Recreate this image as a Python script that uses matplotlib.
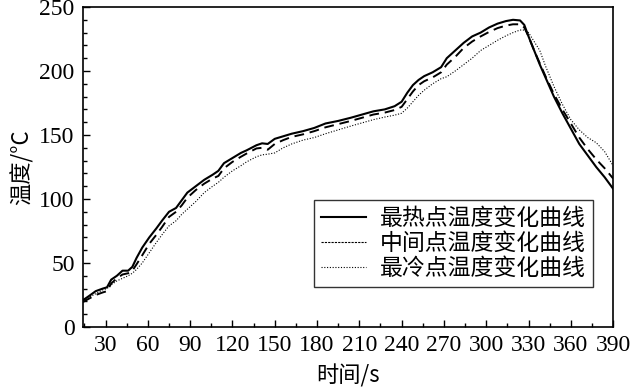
import matplotlib
matplotlib.use("Agg")
import matplotlib.pyplot as plt
from matplotlib.ticker import MultipleLocator

# ---- data ----
t = [14, 18, 23, 28, 31, 34, 38, 42, 46, 49, 52, 56, 61, 66, 70, 75, 80, 84, 88, 94,
     100, 106, 110, 114, 120, 126, 130, 137, 141, 145, 150, 156, 162, 170, 178, 186,
     195, 204, 212, 220, 228, 235, 240, 244, 248, 252, 256, 262, 268, 272, 278, 284,
     290, 296, 302, 308, 314, 319, 324, 327, 330, 334, 338, 342, 348, 354, 360, 366,
     372, 378, 384, 390]
hot = [21, 24, 28, 30, 31, 37, 40, 44, 44, 47, 54, 62, 70, 77, 83, 90, 93, 99, 105, 110,
       115, 119, 122, 128, 132, 136, 138, 142, 143.5, 143, 147, 149, 151, 153, 155.5, 159,
       161, 163.5, 166, 168.5, 170, 172.5, 176, 183, 189, 193, 196, 199, 203, 210, 216, 222,
       227, 230, 234, 237, 239, 240, 239.5, 236, 227, 216, 205, 195, 180, 167, 155, 143,
       134, 125, 117, 108]
mid = [19.5, 22, 25, 27, 28, 34, 38, 41, 42, 44, 49, 56, 65, 72, 78, 86, 90, 95, 101, 107,
       112, 116, 118, 124, 129, 133, 135.5, 139.5, 140, 138.5, 143, 146, 148.5, 150.5, 153, 156,
       158.5, 161, 163.5, 166, 167.5, 169.5, 172, 178, 184, 189, 192, 195, 199, 205, 211, 218,
       223, 227, 230.5, 233.5, 235.5, 236.5, 236.5, 234, 227, 216, 206, 196, 182, 170, 159, 148,
       139, 131, 124, 116]
cold = [20, 23, 26, 29, 30, 33, 36, 38, 40, 42, 45, 50, 58, 66, 72, 79, 83, 88, 92, 98,
        105, 110, 113, 117, 122, 126, 129, 133, 134.5, 135, 136, 140, 143, 146, 148, 151,
        154, 157, 159.5, 162, 164, 165.5, 167, 171, 176, 181, 185, 190, 194, 195.5, 200, 205,
        210, 216, 220, 224, 227.5, 230, 232, 232, 230, 223, 216, 204, 188, 174, 162, 154,
        148, 144, 137, 126]
labels = ["最热点温度变化曲线", "中间点温度变化曲线", "最冷点温度变化曲线"]
xticks = [30, 60, 90, 120, 150, 180, 210, 240, 270, 300, 330, 360, 390]
yticks = [0, 50, 100, 150, 200, 250]

cjk = ["Noto Sans CJK SC", "DejaVu Sans"]
serif = ["Liberation Serif", "DejaVu Serif"]

fig = plt.figure(figsize=(6.4, 3.89), dpi=100)
ax = fig.add_axes([0.1297, 0.1594, 0.958 - 0.1297, 0.982 - 0.1594])

ax.plot(t, hot, color="black", lw=1.5, ls="-", label=labels[0])
ax.plot(t, mid, color="black", lw=1.4, ls=(0, (5, 3)), label=labels[1])
ax.plot(t, cold, color="black", lw=0.8, ls=(0, (1, 1.5)), label=labels[2])

ax.set_xlim(14, 390)
ax.set_ylim(0, 250)
ax.set_xticks(xticks)
ax.set_yticks(yticks)
ax.xaxis.set_minor_locator(MultipleLocator(15))
ax.yaxis.set_minor_locator(MultipleLocator(10))
ax.tick_params(which="both", direction="in", top=False, right=False, width=1.0)
ax.tick_params(which="major", length=5, pad=6)
ax.tick_params(which="minor", length=3)
for lab in ax.get_xticklabels() + ax.get_yticklabels():
    lab.set_fontfamily(serif)
    lab.set_fontsize(17)
for s in ax.spines.values():
    s.set_linewidth(1.2)

ax.set_xlabel("时间/s", family=cjk, fontsize=16, labelpad=6)
ax.set_ylabel("温度/°C", family=cjk, fontsize=16, labelpad=4)

leg = ax.legend(loc="lower right", bbox_to_anchor=(0.962, 0.125), prop={"family": cjk, "size": 16.5},
                frameon=True, fancybox=False, edgecolor="black", handlelength=2.0,
                handletextpad=0.6, borderpad=0.3, labelspacing=0.1, borderaxespad=0)
leg.get_frame().set_linewidth(1.0)
for h in leg.get_lines()[1:]:
    h.set_linewidth(0.8)
leg.get_lines()[1].set_linestyle((0, (2, 1)))

fig.savefig("out.png", dpi=100)
